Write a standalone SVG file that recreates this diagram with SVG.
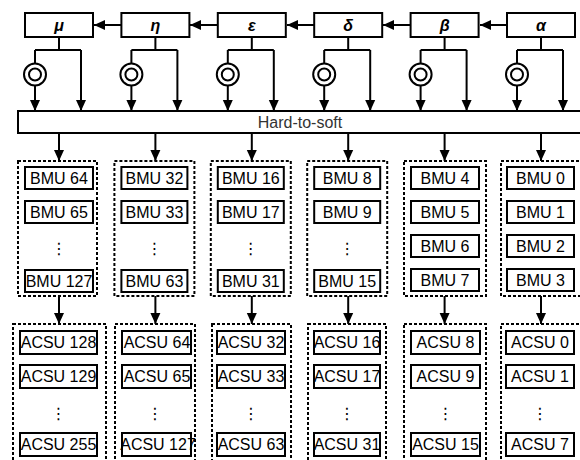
<svg xmlns="http://www.w3.org/2000/svg" width="580" height="460" viewBox="0 0 580 460">
<style>
.box{fill:#fff;stroke:#000;stroke-width:2}
.grp{fill:none;stroke:#000;stroke-width:2;stroke-dasharray:3 2}
.ln{fill:none;stroke:#000;stroke-width:2}
.lbl{font-family:"Liberation Sans",Arial,sans-serif;font-size:16px;text-anchor:middle;fill:#000}
.gk{font-family:"Liberation Sans",Arial,sans-serif;font-size:16px;font-weight:bold;font-style:italic;text-anchor:middle}
.dots{font-family:"DejaVu Sans",sans-serif;font-size:16px;text-anchor:middle}
.arr{marker-end:url(#ah)}
</style>
<defs>
<marker id="ah" markerUnits="userSpaceOnUse" markerWidth="12" markerHeight="12" viewBox="0 0 12 12" refX="11" refY="6" orient="auto">
<path d="M0,1 L11,6 L0,11 Z" fill="#000"/>
</marker>
</defs>
<g id="connectors">
<line class="ln arr" x1="121" y1="25" x2="94" y2="25"/>
<line class="ln arr" x1="217" y1="25" x2="190" y2="25"/>
<line class="ln arr" x1="314" y1="25" x2="287" y2="25"/>
<line class="ln arr" x1="410" y1="25" x2="383" y2="25"/>
<line class="ln arr" x1="507" y1="25" x2="480" y2="25"/>
<g id="branches">
<path class="ln" d="M59,37 V50 M35,50 H81 M35,50 V63"/>
<line class="ln arr" x1="35" y1="86" x2="35" y2="111"/>
<line class="ln arr" x1="81" y1="50" x2="81" y2="111"/>
<path class="ln" d="M155.4,37 V50 M131.4,50 H177.4 M131.4,50 V63"/>
<line class="ln arr" x1="131.4" y1="86" x2="131.4" y2="111"/>
<line class="ln arr" x1="177.4" y1="50" x2="177.4" y2="111"/>
<path class="ln" d="M251.8,37 V50 M227.8,50 H273.8 M227.8,50 V63"/>
<line class="ln arr" x1="227.8" y1="86" x2="227.8" y2="111"/>
<line class="ln arr" x1="273.8" y1="50" x2="273.8" y2="111"/>
<path class="ln" d="M348.2,37 V50 M324.2,50 H370.2 M324.2,50 V63"/>
<line class="ln arr" x1="324.2" y1="86" x2="324.2" y2="111"/>
<line class="ln arr" x1="370.2" y1="50" x2="370.2" y2="111"/>
<path class="ln" d="M444.6,37 V50 M420.6,50 H466.6 M420.6,50 V63"/>
<line class="ln arr" x1="420.6" y1="86" x2="420.6" y2="111"/>
<line class="ln arr" x1="466.6" y1="50" x2="466.6" y2="111"/>
<path class="ln" d="M541,37 V50 M517,50 H563 M517,50 V63"/>
<line class="ln arr" x1="517" y1="86" x2="517" y2="111"/>
<line class="ln arr" x1="563" y1="50" x2="563" y2="111"/>
</g>
<g id="down1">
<line class="ln arr" x1="59" y1="133" x2="59" y2="161"/>
<line class="ln arr" x1="155.4" y1="133" x2="155.4" y2="161"/>
<line class="ln arr" x1="251.8" y1="133" x2="251.8" y2="161"/>
<line class="ln arr" x1="348.2" y1="133" x2="348.2" y2="161"/>
<line class="ln arr" x1="444.6" y1="133" x2="444.6" y2="161"/>
<line class="ln arr" x1="541" y1="133" x2="541" y2="161"/>
</g>
<g id="down2">
<line class="ln arr" x1="59" y1="296" x2="59" y2="324"/>
<line class="ln arr" x1="155.4" y1="296" x2="155.4" y2="324"/>
<line class="ln arr" x1="251.8" y1="296" x2="251.8" y2="324"/>
<line class="ln arr" x1="348.2" y1="296" x2="348.2" y2="324"/>
<line class="ln arr" x1="444.6" y1="296" x2="444.6" y2="324"/>
<line class="ln arr" x1="541" y1="296" x2="541" y2="324"/>
</g>
</g>
<g id="mu"><rect class="box" x="25" y="13" width="68" height="24"/><text class="gk" x="59" y="31">μ</text></g>
<g id="eta"><rect class="box" x="121.4" y="13" width="68" height="24"/><text class="gk" x="155.4" y="31">η</text></g>
<g id="epsilon"><rect class="box" x="217.8" y="13" width="68" height="24"/><text class="gk" x="251.8" y="31">ε</text></g>
<g id="delta"><rect class="box" x="314.2" y="13" width="68" height="24"/><text class="gk" x="348.2" y="31">δ</text></g>
<g id="beta"><rect class="box" x="410.6" y="13" width="68" height="24"/><text class="gk" x="444.6" y="31">β</text></g>
<g id="alpha"><rect class="box" x="507" y="13" width="68" height="24"/><text class="gk" x="541" y="31">α</text></g>
<g id="circles">
<g id="c1"><circle class="ln" cx="35" cy="74.5" r="11"/><circle class="ln" cx="35" cy="74.5" r="6"/></g>
<g id="c2"><circle class="ln" cx="131.4" cy="74.5" r="11"/><circle class="ln" cx="131.4" cy="74.5" r="6"/></g>
<g id="c3"><circle class="ln" cx="227.8" cy="74.5" r="11"/><circle class="ln" cx="227.8" cy="74.5" r="6"/></g>
<g id="c4"><circle class="ln" cx="324.2" cy="74.5" r="11"/><circle class="ln" cx="324.2" cy="74.5" r="6"/></g>
<g id="c5"><circle class="ln" cx="420.6" cy="74.5" r="11"/><circle class="ln" cx="420.6" cy="74.5" r="6"/></g>
<g id="c6"><circle class="ln" cx="517" cy="74.5" r="11"/><circle class="ln" cx="517" cy="74.5" r="6"/></g>
</g>
<g id="hard-to-soft"><rect class="box" x="18" y="111" width="566" height="22"/><text class="lbl" x="300" y="128" style="fill:#333">Hard-to-soft</text></g>
<g id="bmu-g1">
<rect class="grp" x="18" y="161" width="79" height="135"/>
<rect class="box" x="25" y="167" width="68" height="22"/><text class="lbl" x="59" y="184">BMU 64</text>
<rect class="box" x="25" y="201" width="68" height="22"/><text class="lbl" x="59" y="218">BMU 65</text>
<text class="dots" x="59" y="254">⋮</text>
<rect class="box" x="25" y="270" width="68" height="22"/><text class="lbl" x="59" y="287">BMU 127</text>
</g>
<g id="bmu-g2">
<rect class="grp" x="114.4" y="161" width="80" height="135"/>
<rect class="box" x="121.4" y="167" width="66" height="22"/><text class="lbl" x="154.4" y="184">BMU 32</text>
<rect class="box" x="121.4" y="201" width="66" height="22"/><text class="lbl" x="154.4" y="218">BMU 33</text>
<text class="dots" x="154.4" y="254">⋮</text>
<rect class="box" x="121.4" y="270" width="66" height="22"/><text class="lbl" x="154.4" y="287">BMU 63</text>
</g>
<g id="bmu-g3">
<rect class="grp" x="210.8" y="161" width="80" height="135"/>
<rect class="box" x="217.8" y="167" width="66" height="22"/><text class="lbl" x="250.8" y="184">BMU 16</text>
<rect class="box" x="217.8" y="201" width="66" height="22"/><text class="lbl" x="250.8" y="218">BMU 17</text>
<text class="dots" x="250.8" y="254">⋮</text>
<rect class="box" x="217.8" y="270" width="66" height="22"/><text class="lbl" x="250.8" y="287">BMU 31</text>
</g>
<g id="bmu-g4">
<rect class="grp" x="307.2" y="161" width="80" height="135"/>
<rect class="box" x="314.2" y="167" width="66" height="22"/><text class="lbl" x="347.2" y="184">BMU 8</text>
<rect class="box" x="314.2" y="201" width="66" height="22"/><text class="lbl" x="347.2" y="218">BMU 9</text>
<text class="dots" x="347.2" y="254">⋮</text>
<rect class="box" x="314.2" y="270" width="66" height="22"/><text class="lbl" x="347.2" y="287">BMU 15</text>
</g>
<g id="bmu-g5">
<rect class="grp" x="404" y="161" width="82" height="135"/>
<rect class="box" x="411" y="167" width="68" height="22"/><text class="lbl" x="445" y="184">BMU 4</text>
<rect class="box" x="411" y="201" width="68" height="22"/><text class="lbl" x="445" y="218">BMU 5</text>
<rect class="box" x="411" y="235" width="68" height="22"/><text class="lbl" x="445" y="252">BMU 6</text>
<rect class="box" x="411" y="269" width="68" height="22"/><text class="lbl" x="445" y="286">BMU 7</text>
</g>
<g id="bmu-g6">
<rect class="grp" x="501" y="161" width="80" height="135"/>
<rect class="box" x="507" y="167" width="67" height="22"/><text class="lbl" x="540.5" y="184">BMU 0</text>
<rect class="box" x="507" y="201" width="67" height="22"/><text class="lbl" x="540.5" y="218">BMU 1</text>
<rect class="box" x="507" y="235" width="67" height="22"/><text class="lbl" x="540.5" y="252">BMU 2</text>
<rect class="box" x="507" y="269" width="67" height="22"/><text class="lbl" x="540.5" y="286">BMU 3</text>
</g>
<g id="acsu-g1">
<rect class="grp" x="13" y="324" width="93" height="145"/>
<rect class="box" x="20" y="331" width="77" height="23"/><text class="lbl" x="58.5" y="348">ACSU 128</text>
<rect class="box" x="20" y="365" width="77" height="23"/><text class="lbl" x="58.5" y="382">ACSU 129</text>
<text class="dots" x="58.5" y="419">⋮</text>
<rect class="box" x="20" y="433" width="77" height="23"/><text class="lbl" x="58.5" y="450">ACSU 255</text>
</g>
<g id="acsu-g2">
<rect class="grp" x="115" y="324" width="80" height="145"/>
<rect class="box" x="122" y="331" width="69" height="23"/><text class="lbl" x="157" y="348">ACSU 64</text>
<rect class="box" x="122" y="365" width="69" height="23"/><text class="lbl" x="157" y="382">ACSU 65</text>
<text class="dots" x="155" y="419">⋮</text>
<rect class="box" x="122" y="433" width="69" height="23"/><text class="lbl" x="158" y="450">ACSU 127</text>
</g>
<g id="acsu-g3">
<rect class="grp" x="212" y="324" width="79" height="145"/>
<rect class="box" x="217" y="331" width="68" height="23"/><text class="lbl" x="251" y="348">ACSU 32</text>
<rect class="box" x="217" y="365" width="68" height="23"/><text class="lbl" x="251" y="382">ACSU 33</text>
<text class="dots" x="251" y="419">⋮</text>
<rect class="box" x="217" y="433" width="68" height="23"/><text class="lbl" x="251" y="450">ACSU 63</text>
</g>
<g id="acsu-g4">
<rect class="grp" x="308" y="324" width="78" height="145"/>
<rect class="box" x="314" y="331" width="66" height="23"/><text class="lbl" x="347" y="348">ACSU 16</text>
<rect class="box" x="314" y="365" width="66" height="23"/><text class="lbl" x="347" y="382">ACSU 17</text>
<text class="dots" x="347" y="419">⋮</text>
<rect class="box" x="314" y="433" width="66" height="23"/><text class="lbl" x="347" y="450">ACSU 31</text>
</g>
<g id="acsu-g5">
<rect class="grp" x="404" y="324" width="82" height="145"/>
<rect class="box" x="411" y="331" width="69" height="23"/><text class="lbl" x="445.5" y="348">ACSU 8</text>
<rect class="box" x="411" y="365" width="69" height="23"/><text class="lbl" x="445.5" y="382">ACSU 9</text>
<text class="dots" x="445.5" y="419">⋮</text>
<rect class="box" x="411" y="433" width="69" height="23"/><text class="lbl" x="445.5" y="450">ACSU 15</text>
</g>
<g id="acsu-g6">
<rect class="grp" x="501" y="324" width="80" height="145"/>
<rect class="box" x="506" y="331" width="68" height="23"/><text class="lbl" x="540" y="348">ACSU 0</text>
<rect class="box" x="506" y="365" width="68" height="23"/><text class="lbl" x="540" y="382">ACSU 1</text>
<text class="dots" x="540" y="419">⋮</text>
<rect class="box" x="506" y="433" width="68" height="23"/><text class="lbl" x="540" y="450">ACSU 7</text>
</g>
</svg>
